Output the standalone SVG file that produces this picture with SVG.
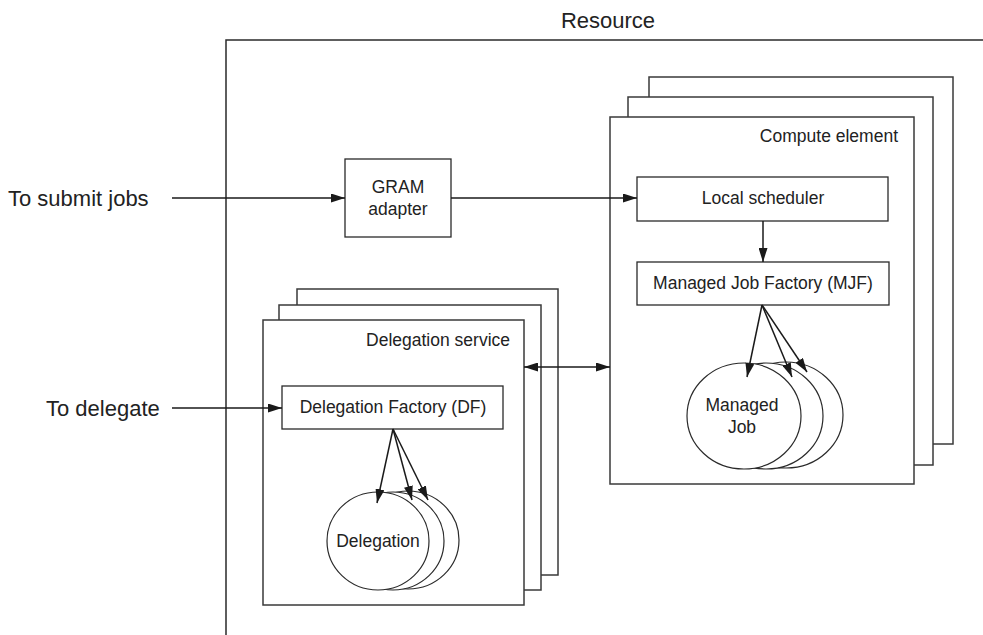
<svg xmlns="http://www.w3.org/2000/svg" width="983" height="635" viewBox="0 0 983 635">
<defs>
<marker id="ah" viewBox="0 0 14 9" refX="14" refY="4.5" markerWidth="14" markerHeight="9" markerUnits="userSpaceOnUse" orient="auto-start-reverse">
<path d="M0,0 L14,4.5 L0,9 z" fill="#1a1a1a"/>
</marker>
<style>
.frame{fill:#fff;stroke:#3a3a3a;stroke-width:1.5}
.box{fill:#fff;stroke:#2a2a2a;stroke-width:1.3}
.circ{fill:#fff;stroke:#2a2a2a;stroke-width:1.2}
.conn{fill:none;stroke:#1a1a1a;stroke-width:1.5;marker-end:url(#ah)}
.big{font-family:"Liberation Sans",Arial,sans-serif;font-size:22px;fill:#222}
.lbl{font-family:"Liberation Sans",Arial,sans-serif;font-size:17.5px;fill:#222}
</style>
</defs>
<rect width="983" height="635" fill="#fff"/>
<g id="resource">
<path d="M983 40 H226 V635" fill="none" stroke="#2a2a2a" stroke-width="1.5"/>
<text class="big" x="608" y="28" text-anchor="middle">Resource</text>
</g>
<g id="inputs">
<text class="big" x="8" y="206">To submit jobs</text>
<text class="big" x="46" y="416">To delegate</text>
</g>
<g id="gram-adapter">
<rect class="box" x="345" y="159" width="106" height="78"/>
<text class="lbl" x="398" y="193" text-anchor="middle">GRAM</text>
<text class="lbl" x="398" y="215" text-anchor="middle">adapter</text>
</g>
<g id="compute-element">
<rect class="frame" x="649" y="77" width="304" height="367"/>
<rect class="frame" x="628" y="97" width="305" height="368"/>
<rect class="frame" x="610" y="117" width="304" height="367"/>
<text class="lbl" x="898" y="142" text-anchor="end">Compute element</text>
</g>
<g id="local-scheduler">
<rect class="box" x="637" y="177" width="251" height="44"/>
<text class="lbl" x="763" y="204" text-anchor="middle">Local scheduler</text>
</g>
<g id="mjf">
<rect class="box" x="637" y="262" width="252" height="43"/>
<text class="lbl" x="763" y="289" text-anchor="middle">Managed Job Factory (MJF)</text>
</g>
<g id="managed-job">
<ellipse class="circ" cx="786" cy="415" rx="57" ry="53"/>
<ellipse class="circ" cx="766" cy="416" rx="57" ry="53"/>
<ellipse class="circ" cx="744" cy="416" rx="57" ry="53"/>
<text class="lbl" x="742" y="411" text-anchor="middle">Managed</text>
<text class="lbl" x="742" y="433" text-anchor="middle">Job</text>
</g>
<g id="delegation-service">
<rect class="frame" x="297" y="289" width="261" height="286"/>
<rect class="frame" x="279" y="305" width="262" height="285"/>
<rect class="frame" x="263" y="320" width="261" height="285"/>
<text class="lbl" x="510" y="346" text-anchor="end">Delegation service</text>
</g>
<g id="df">
<rect class="box" x="282" y="386" width="221" height="43"/>
<text class="lbl" x="393" y="413" text-anchor="middle">Delegation Factory (DF)</text>
</g>
<g id="delegation">
<ellipse class="circ" cx="408" cy="540" rx="51" ry="49"/>
<ellipse class="circ" cx="393" cy="541" rx="51" ry="49"/>
<ellipse class="circ" cx="378" cy="541" rx="51" ry="49"/>
<text class="lbl" x="378" y="547" text-anchor="middle">Delegation</text>
</g>
<g id="connectors">
<line class="conn" x1="172" y1="198" x2="345" y2="198"/>
<line class="conn" x1="451" y1="198" x2="637" y2="198"/>
<line class="conn" x1="763" y1="221" x2="763" y2="262"/>
<line class="conn" x1="762" y1="305" x2="747" y2="377"/>
<line class="conn" x1="762" y1="305" x2="792" y2="377"/>
<line class="conn" x1="762" y1="305" x2="807" y2="372"/>
<line class="conn" x1="172" y1="408" x2="282" y2="408"/>
<line class="conn" x1="393" y1="429" x2="377" y2="503"/>
<line class="conn" x1="393" y1="429" x2="412" y2="500"/>
<line class="conn" x1="393" y1="429" x2="428" y2="500"/>
<line class="conn" x1="524" y1="367" x2="610" y2="367" style="marker-start:url(#ah)"/>
</g>
</svg>
